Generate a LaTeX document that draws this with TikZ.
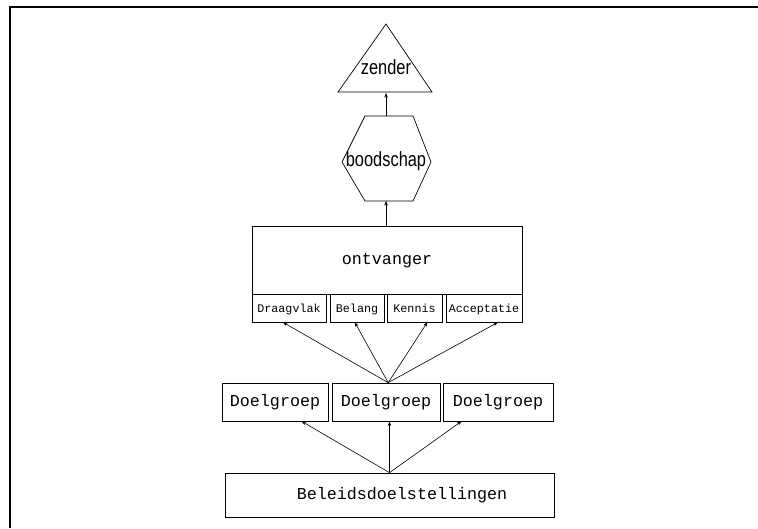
\documentclass[tikz,border=0pt]{standalone}
\usepackage{fontspec}
\setmainfont{Liberation Sans}
\newfontfamily\monofont{Liberation Mono}
\newfontfamily\narrowfont[FakeStretch=0.8]{Liberation Sans}
\usetikzlibrary{arrows.meta,calc}
\begin{document}
\begin{tikzpicture}[x=1pt,y=-1pt,
  box/.style={draw=black, line width=0.7pt, rectangle, inner sep=0pt, anchor=center,
    text height=0.85em, text depth=0pt,
    font=\monofont\fontsize{16.7}{18}\selectfont},
  subbox/.style={box, font=\monofont\fontsize{11.7}{13}\selectfont},
  shapeline/.style={draw=black, line width=0.7pt},
  shapetext/.style={inner sep=0pt, font=\narrowfont\fontsize{20.5}{22}\selectfont},
  arr/.style={draw=black, line width=0.6pt, -{Stealth[length=4.5pt,width=3.5pt]}},
  frame/.style={draw=black, line width=2.2pt}
]
\useasboundingbox (0,0) rectangle (758,528);
% frame (top and left edges only)
\draw[frame] (10,528) -- (10,7) -- (758,7);

% triangle: zender
\draw[shapeline] (386,24) -- (432,92) -- (338,92) -- cycle;
\coordinate (tribase) at (386,93);
\node[shapetext] (zender) at (386,67) {zender};

% hexagon: boodschap
\draw[shapeline] (365,116) -- (413,116) -- (431,162) -- (413,201) -- (365,201) -- (342,162) -- cycle;
\coordinate (hextop) at (386,116);
\coordinate (hexbot) at (386,201);
\node[shapetext] (boodschap) at (386,161) {boodschap};

% ontvanger
\node[box, minimum width=270pt, minimum height=68pt] (ontv) at (387,260) {ontvanger};
\node[subbox, minimum width=74pt, minimum height=28pt] (draag) at (289,308) {Draagvlak};
\node[subbox, minimum width=54pt, minimum height=28pt] (belang) at (357,308) {Belang};
\node[subbox, minimum width=55pt, minimum height=28pt] (kennis) at (414.5,308) {Kennis};
\node[subbox, minimum width=76pt, minimum height=28pt] (accept) at (484,308) {Acceptatie};

% doelgroepen
\node[box, minimum width=106pt, minimum height=38pt] (dg1) at (275,402) {Doelgroep};
\node[box, minimum width=108pt, minimum height=38pt] (dg2) at (386,402) {Doelgroep};
\node[box, minimum width=110pt, minimum height=38pt] (dg3) at (498,402) {Doelgroep};

% beleidsdoelstellingen
\node[box, minimum width=329pt, minimum height=44pt] (bel) at (389.5,495) {\hspace*{25pt}Beleidsdoelstellingen};

% connectors
\draw[arr] (hextop) -- (tribase);
\draw[arr] (ontv.north -| hexbot) -- (hexbot);

\coordinate (dgtop) at ($(dg2.north west)!0.52!(dg2.north east)$);
\draw[arr] (dgtop) -- ($(draag.south west)!0.42!(draag.south east)$);
\draw[arr] (dgtop) -- ($(belang.south west)!0.46!(belang.south east)$);
\draw[arr] (dgtop) -- ($(kennis.south west)!0.73!(kennis.south east)$);
\draw[arr] (dgtop) -- ($(accept.south west)!0.68!(accept.south east)$);

\coordinate (beltop) at ($(bel.north west)!0.5!(bel.north east)$);
\draw[arr] (beltop) -- ($(dg1.south west)!0.75!(dg1.south east)$);
\draw[arr] (beltop) -- (beltop |- dg2.south);
\draw[arr] (beltop) -- ($(dg3.south west)!0.17!(dg3.south east)$);
\end{tikzpicture}
\end{document}
